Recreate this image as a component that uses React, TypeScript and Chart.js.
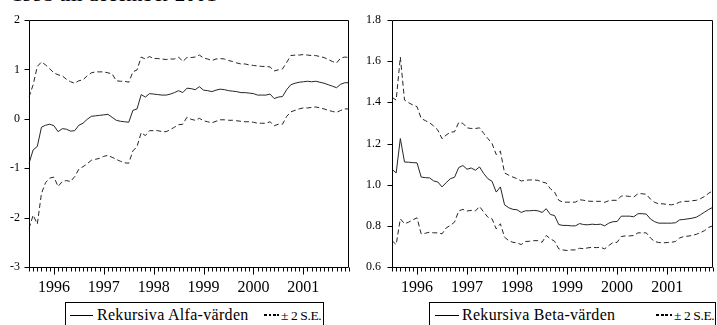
import React, { useEffect, useRef } from 'react';
import { Chart, registerables } from 'chart.js';

Chart.register(...registerables);

const FONT = "'Liberation Serif', 'Times New Roman', Times, serif";
const LINE = '#262626';

// Monthly observations 1995M07 .. 2001M12
const START_YEAR = 1995;
const START_MONTH = 7;
const N_OBS = 78;
const months: string[] = [];
for (let k = 0; k < N_OBS; k++) {
  const m = START_MONTH - 1 + k;
  const y = START_YEAR + Math.floor(m / 12);
  const mm = (m % 12) + 1;
  months.push(`${y}M${String(mm).padStart(2, '0')}`);
}

const yearLabels = ['1996', '1997', '1998', '1999', '2000', '2001'];

const alphaTicks = [-3, -2, -1, 0, 1, 2];
const betaTicks = [0.6, 0.8, 1.0, 1.2, 1.4, 1.6, 1.8];

const alpha = [
  -0.90, -0.63, -0.56, -0.17, -0.13, -0.11, -0.14, -0.26, -0.20, -0.21,
  -0.25, -0.24, -0.13, -0.09, -0.01, 0.05, 0.06, 0.07, 0.08, 0.09,
  0.03, -0.03, -0.05, -0.06, -0.07, 0.17, 0.20, 0.49, 0.44, 0.51,
  0.50, 0.49, 0.48, 0.48, 0.50, 0.53, 0.57, 0.53, 0.62, 0.61,
  0.59, 0.65, 0.58, 0.57, 0.55, 0.58, 0.60, 0.59, 0.57, 0.56,
  0.55, 0.53, 0.53, 0.52, 0.51, 0.48, 0.48, 0.48, 0.50, 0.41,
  0.44, 0.45, 0.59, 0.69, 0.72, 0.74, 0.75, 0.76, 0.75, 0.76,
  0.74, 0.72, 0.69, 0.66, 0.63, 0.70, 0.73, 0.73,
];

const alphaUpper = [
  0.44, 0.69, 1.06, 1.15, 1.09, 1.01, 0.93, 0.89, 0.87, 0.80,
  0.75, 0.72, 0.77, 0.79, 0.87, 0.93, 0.95, 0.95, 0.95, 0.93,
  0.91, 0.77, 0.76, 0.76, 0.74, 0.95, 0.99, 1.25, 1.21, 1.26,
  1.22, 1.22, 1.21, 1.20, 1.21, 1.21, 1.25, 1.16, 1.24, 1.24,
  1.25, 1.29, 1.23, 1.21, 1.18, 1.21, 1.22, 1.21, 1.18, 1.16,
  1.13, 1.11, 1.11, 1.09, 1.08, 1.07, 1.06, 1.06, 1.05, 0.97,
  0.99, 1.01, 1.14, 1.28, 1.29, 1.29, 1.30, 1.29, 1.28, 1.28,
  1.26, 1.24, 1.20, 1.16, 1.13, 1.23, 1.25, 1.24,
];

const alphaLower = [
  -2.22, -1.95, -2.13, -1.51, -1.29, -1.20, -1.18, -1.37, -1.27, -1.25,
  -1.27, -1.17, -1.02, -0.97, -0.91, -0.84, -0.82, -0.80, -0.76, -0.74,
  -0.78, -0.82, -0.86, -0.89, -0.90, -0.65, -0.56, -0.28, -0.34, -0.24,
  -0.24, -0.24, -0.26, -0.26, -0.22, -0.17, -0.12, -0.11, 0.03, -0.01,
  -0.03, 0.01, -0.04, -0.06, -0.08, -0.05, -0.02, -0.02, -0.03, -0.03,
  -0.04, -0.05, -0.06, -0.06, -0.07, -0.09, -0.09, -0.09, -0.06, -0.14,
  -0.11, -0.11, 0.05, 0.14, 0.17, 0.20, 0.22, 0.22, 0.23, 0.24,
  0.22, 0.20, 0.17, 0.15, 0.13, 0.17, 0.20, 0.20,
];

const beta = [
  1.075, 1.057, 1.224, 1.11, 1.109, 1.107, 1.106, 1.037, 1.034, 1.033,
  1.018, 1.013, 0.989, 1.01, 1.029, 1.036, 1.083, 1.093, 1.075, 1.081,
  1.07, 1.086, 1.054, 1.029, 1.016, 0.964, 0.989, 0.902, 0.888, 0.88,
  0.878, 0.865, 0.873, 0.873, 0.875, 0.873, 0.865, 0.883, 0.855, 0.85,
  0.806, 0.802, 0.802, 0.80, 0.80, 0.811, 0.806, 0.805, 0.808, 0.806,
  0.808, 0.80, 0.813, 0.82, 0.821, 0.847, 0.847, 0.847, 0.844, 0.859,
  0.859, 0.857, 0.833, 0.82, 0.813, 0.813, 0.813, 0.813, 0.815, 0.829,
  0.831, 0.834, 0.837, 0.842, 0.854, 0.867, 0.88, 0.89,
];

const betaUpper = [
  1.424, 1.411, 1.62, 1.411, 1.398, 1.387, 1.379, 1.322, 1.311, 1.301,
  1.285, 1.265, 1.223, 1.241, 1.255, 1.257, 1.302, 1.298, 1.276, 1.273,
  1.273, 1.276, 1.249, 1.224, 1.2, 1.146, 1.163, 1.057, 1.046, 1.037,
  1.029, 1.018, 1.021, 1.023, 1.023, 1.021, 1.013, 1.008, 0.98, 0.964,
  0.924, 0.915, 0.915, 0.915, 0.915, 0.927, 0.924, 0.92, 0.919, 0.919,
  0.919, 0.914, 0.922, 0.924, 0.924, 0.945, 0.945, 0.943, 0.94, 0.956,
  0.956, 0.953, 0.93, 0.914, 0.907, 0.907, 0.904, 0.902, 0.906, 0.915,
  0.919, 0.919, 0.922, 0.924, 0.932, 0.943, 0.959, 0.97,
];

const betaLower = [
  0.728, 0.709, 0.834, 0.81, 0.818, 0.829, 0.839, 0.761, 0.764, 0.769,
  0.766, 0.766, 0.761, 0.79, 0.802, 0.818, 0.872, 0.88, 0.872, 0.875,
  0.872, 0.894, 0.867, 0.842, 0.834, 0.785, 0.81, 0.745, 0.728, 0.72,
  0.717, 0.709, 0.724, 0.725, 0.728, 0.728, 0.72, 0.753, 0.737, 0.725,
  0.688, 0.683, 0.68, 0.683, 0.683, 0.691, 0.689, 0.693, 0.696, 0.694,
  0.696, 0.688, 0.704, 0.719, 0.72, 0.748, 0.751, 0.751, 0.753, 0.766,
  0.766, 0.766, 0.741, 0.724, 0.719, 0.717, 0.719, 0.72, 0.724, 0.741,
  0.748, 0.75, 0.753, 0.759, 0.767, 0.777, 0.793, 0.80,
];

const yearLabelAt = (i: number): string => {
  const lab = months[i];
  if (!lab || !lab.endsWith('M01')) return '';
  const yr = lab.slice(0, 4);
  return yearLabels.includes(yr) ? yr : '';
};

const framePlugin = {
  id: 'eviewsFrame',
  afterDraw(chart: any) {
    const { ctx, chartArea: a } = chart;
    const L = Math.round(a.left) + 0.5;
    const T = Math.round(a.top) + 0.5;
    const R = Math.round(a.right) - 0.5;
    const B = Math.round(a.bottom) + 0.5;
    ctx.save();
    ctx.strokeStyle = '#000';
    ctx.lineWidth = 1;
    ctx.beginPath();
    ctx.moveTo(L, T);
    ctx.lineTo(R, T);
    ctx.lineTo(R, B);
    ctx.lineTo(L, B);
    ctx.closePath();
    ctx.stroke();
    // x tick marks (monthly, longer at January)
    const xs = chart.scales.x;
    ctx.beginPath();
    (chart.data.labels as string[]).forEach((lab: string, i: number) => {
      const x = Math.round(xs.getPixelForValue(i)) + 0.5;
      const len = lab.endsWith('M01') ? 7 : 4;
      ctx.moveTo(x, B);
      ctx.lineTo(x, B + len);
    });
    ctx.stroke();
    // y tick marks
    const ys = chart.scales.y;
    ctx.beginPath();
    ys.ticks.forEach((t: any) => {
      const y = Math.round(ys.getPixelForValue(t.value)) + 0.5;
      ctx.moveTo(L - 5, y);
      ctx.lineTo(L, y);
    });
    ctx.stroke();
    ctx.restore();
  },
};

type ChartProps = {
  left: number;
  width: number;
  center: number[];
  upper: number[];
  lower: number[];
  yMin: number;
  yMax: number;
  yTicks: number[];
  fmt: (v: number) => string;
  yWidth: number;
  yPad: number;
  padRight: number;
};

function RecursiveChart(p: ChartProps) {
  const ref = useRef<HTMLCanvasElement>(null);
  useEffect(() => {
    const base = { borderColor: LINE, borderWidth: 1, pointRadius: 0, fill: false, tension: 0 };
    const chart = new Chart(ref.current as HTMLCanvasElement, {
      type: 'line',
      data: {
        labels: months,
        datasets: [
          { ...base, data: p.center },
          { ...base, data: p.upper, borderDash: [5, 3] },
          { ...base, data: p.lower, borderDash: [5, 3] },
        ],
      },
      options: {
        animation: false,
        responsive: false,
        devicePixelRatio: 1,
        layout: { padding: { left: 0, top: 20, right: p.padRight, bottom: 0 } },
        plugins: { legend: { display: false }, tooltip: { enabled: false } },
        scales: {
          x: {
            type: 'category',
            offset: false,
            grid: { display: false, drawTicks: false },
            border: { display: false },
            ticks: {
              autoSkip: false,
              maxRotation: 0,
              minRotation: 0,
              padding: 11,
              color: '#000',
              font: { family: FONT, size: 16 },
              callback: (_v: any, i: number) => yearLabelAt(i),
            },
            afterFit: (s: any) => {
              s.height = 33;
            },
          },
          y: {
            type: 'linear',
            min: p.yMin,
            max: p.yMax,
            grid: { display: false, drawTicks: false },
            border: { display: false },
            afterBuildTicks: (s: any) => {
              s.ticks = p.yTicks.map((v) => ({ value: v }));
            },
            ticks: {
              padding: p.yPad,
              color: '#000',
              font: { family: FONT, size: 12 },
              callback: (v: any) => p.fmt(Number(v)),
            },
            afterFit: (s: any) => {
              s.width = p.yWidth;
            },
          },
        },
      } as any,
      plugins: [framePlugin],
    });
    return () => chart.destroy();
  }, []);
  return (
    <canvas
      ref={ref}
      width={p.width}
      height={300}
      style={{ position: 'absolute', left: p.left, top: 0, width: p.width, height: 300 }}
    />
  );
}

type LegendProps = {
  left: number;
  width: number;
  lineLeft: number;
  lineW: number;
  textLeft: number;
  label: string;
  dashLeft: number;
  dashW: number;
  seLeft: number;
};

function Legend(l: LegendProps) {
  const txt: React.CSSProperties = {
    position: 'absolute',
    top: 4,
    lineHeight: '16px',
    whiteSpace: 'nowrap',
  };
  return (
    <div
      style={{
        position: 'absolute',
        left: l.left,
        top: 302,
        width: l.width,
        height: 40,
        border: '1px solid #000',
        boxSizing: 'border-box',
        fontFamily: FONT,
        fontSize: 16,
        color: '#000',
        background: '#fff',
      }}
    >
      <div style={{ position: 'absolute', left: l.lineLeft, top: 12, width: l.lineW, height: 1, background: '#000' }} />
      <div style={{ ...txt, left: l.textLeft, letterSpacing: '0.3px' }}>{l.label}</div>
      <div
        style={{
          position: 'absolute',
          left: l.dashLeft,
          top: 11,
          width: l.dashW,
          height: 2,
          background: 'repeating-linear-gradient(to right, #000 0px, #000 3px, transparent 3px, transparent 4.5px)',
        }}
      />
      <div style={{ ...txt, left: l.seLeft, top: 5, fontSize: 13.5, letterSpacing: '-0.4px' }}>
        ± 2 S.E.
      </div>
    </div>
  );
}

export default function App() {
  return (
    <div
      style={{
        position: 'fixed',
        left: 0,
        top: 0,
        width: 717,
        height: 325,
        overflow: 'hidden',
        background: '#fff',
      }}
    >
      <div
        style={{
          position: 'absolute',
          left: 12,
          top: -17,
          fontFamily: FONT,
          fontSize: 21,
          lineHeight: '22px',
          whiteSpace: 'nowrap',
          color: '#000',
        }}
      >
        1995 till december 2001
      </div>
      <RecursiveChart
        left={0}
        width={360}
        center={alpha}
        upper={alphaUpper}
        lower={alphaLower}
        yMin={-3}
        yMax={2}
        yTicks={alphaTicks}
        fmt={(v) => String(v)}
        yWidth={29}
        yPad={9}
        padRight={2}
      />
      <RecursiveChart
        left={362}
        width={362}
        center={beta}
        upper={betaUpper}
        lower={betaLower}
        yMin={0.6}
        yMax={1.8}
        yTicks={betaTicks}
        fmt={(v) => v.toFixed(1)}
        yWidth={30}
        yPad={11}
        padRight={3}
      />
      <Legend
        left={65}
        width={259}
        lineLeft={4}
        lineW={23}
        textLeft={31}
        label="Rekursiva Alfa-värden"
        dashLeft={198}
        dashW={15}
        seLeft={215}
      />
      <Legend
        left={429}
        width={287}
        lineLeft={5}
        lineW={24}
        textLeft={32}
        label="Rekursiva Beta-värden"
        dashLeft={226}
        dashW={16}
        seLeft={244}
      />
    </div>
  );
}
